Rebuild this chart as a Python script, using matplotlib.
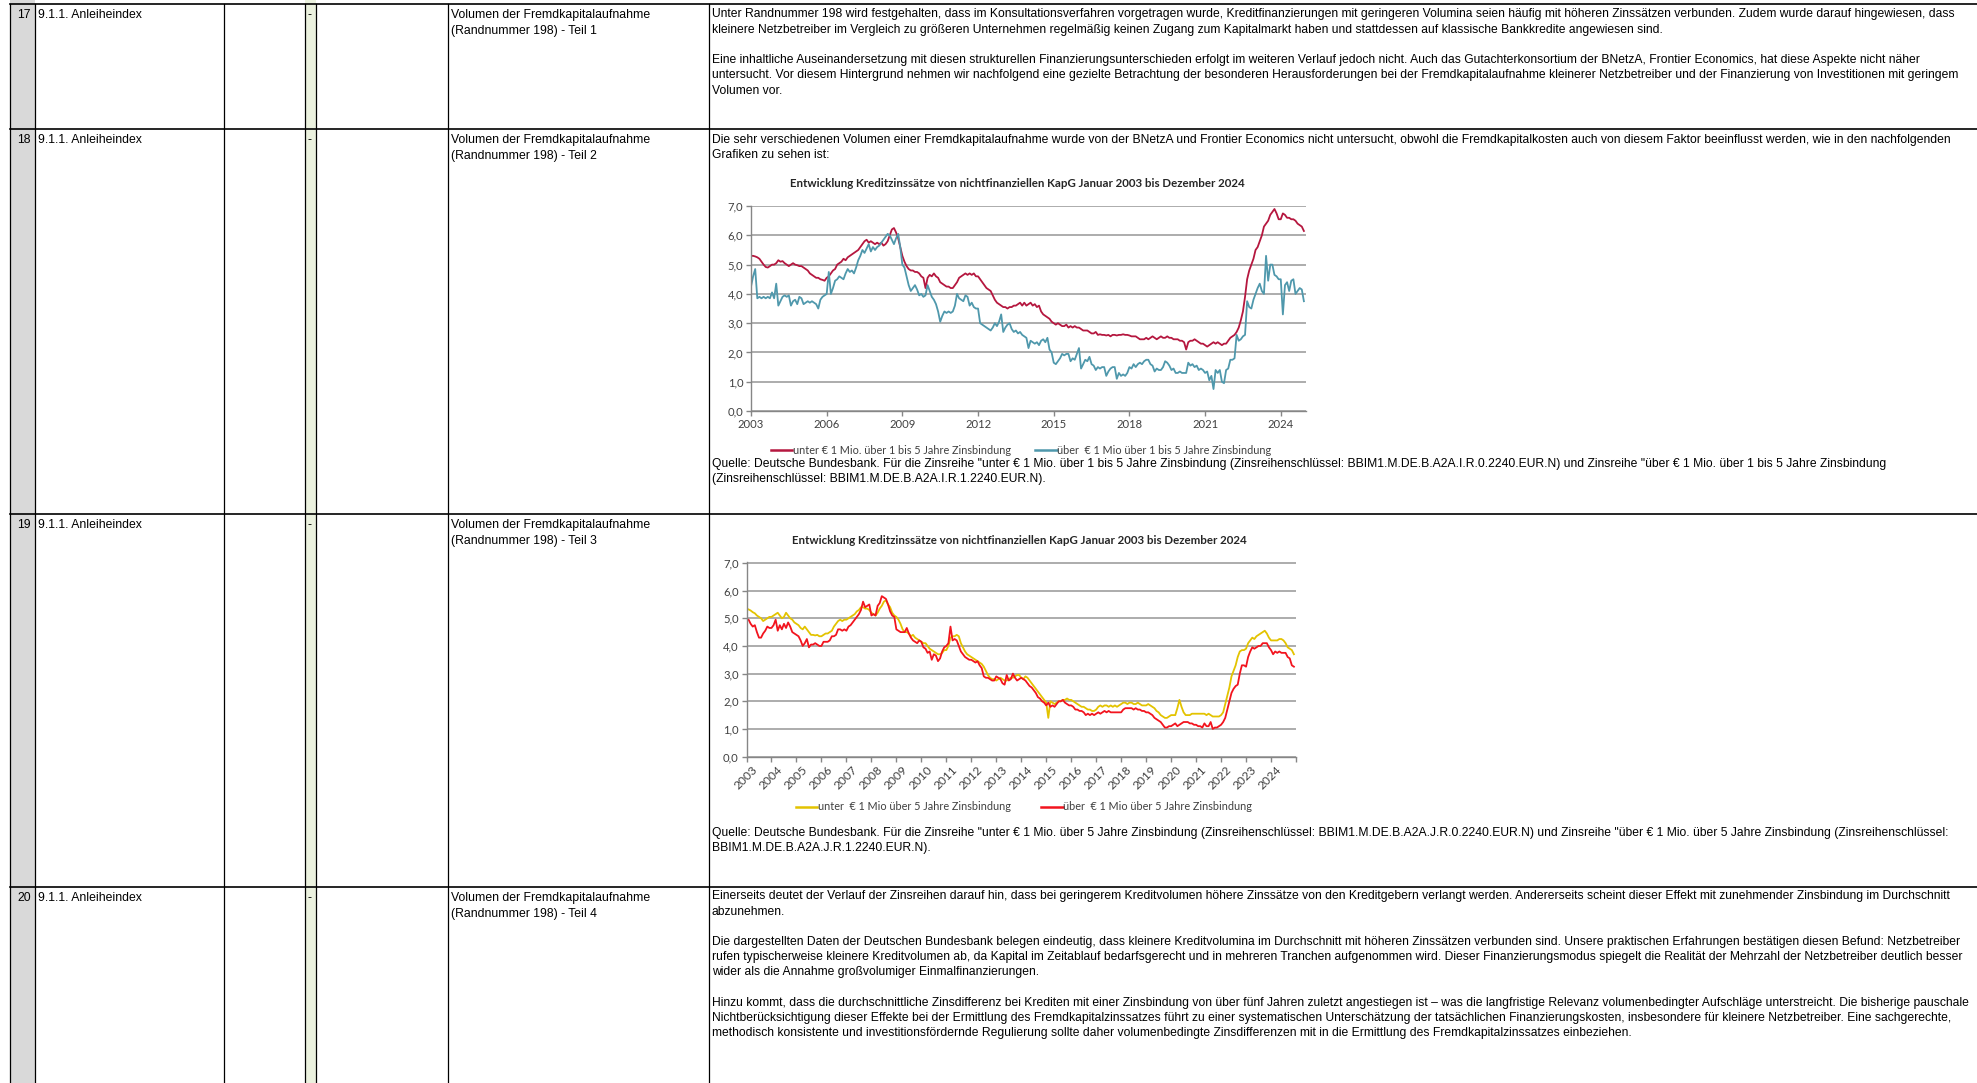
import numpy as np
import matplotlib.pyplot as plt
import matplotlib.transforms as mtransforms
from matplotlib.lines import Line2D

W, H = 1977, 1083

# ---- chart data (monthly, one row per year 2003..2024) ----
years = list(range(2003, 2025))

unter_1_bis_5 = [
    [5.30, 5.30, 5.28, 5.25, 5.20, 5.10, 5.00, 4.92, 4.90, 4.95, 5.00, 5.00],
    [5.05, 5.15, 5.10, 5.12, 5.05, 5.00, 4.95, 5.00, 5.05, 5.00, 4.98, 4.95],
    [4.95, 4.90, 4.85, 4.80, 4.70, 4.65, 4.60, 4.55, 4.55, 4.50, 4.48, 4.45],
    [4.55, 4.60, 4.70, 4.80, 4.85, 5.00, 5.05, 5.10, 5.20, 5.15, 5.25, 5.30],
    [5.35, 5.40, 5.45, 5.50, 5.60, 5.70, 5.80, 5.85, 5.75, 5.80, 5.75, 5.70],
    [5.75, 5.70, 5.75, 5.65, 5.70, 5.80, 6.00, 6.20, 6.25, 6.10, 5.90, 5.60],
    [5.30, 5.10, 4.95, 4.85, 4.80, 4.80, 4.75, 4.75, 4.70, 4.60, 4.55, 4.20],
    [4.55, 4.65, 4.60, 4.70, 4.60, 4.55, 4.40, 4.35, 4.30, 4.25, 4.25, 4.20],
    [4.20, 4.30, 4.40, 4.55, 4.60, 4.65, 4.70, 4.65, 4.70, 4.65, 4.70, 4.60],
    [4.60, 4.50, 4.40, 4.30, 4.20, 4.15, 4.10, 3.95, 3.80, 3.70, 3.65, 3.60],
    [3.55, 3.55, 3.50, 3.55, 3.55, 3.60, 3.60, 3.65, 3.70, 3.60, 3.70, 3.60],
    [3.65, 3.70, 3.60, 3.65, 3.55, 3.60, 3.40, 3.30, 3.25, 3.20, 3.15, 3.05],
    [3.00, 2.95, 3.00, 2.95, 2.90, 2.90, 2.95, 2.85, 2.90, 2.85, 2.90, 2.85],
    [2.85, 2.80, 2.75, 2.75, 2.75, 2.70, 2.65, 2.65, 2.70, 2.60, 2.62, 2.60],
    [2.60, 2.58, 2.60, 2.55, 2.60, 2.60, 2.58, 2.60, 2.60, 2.62, 2.60, 2.60],
    [2.58, 2.55, 2.55, 2.55, 2.50, 2.45, 2.45, 2.45, 2.50, 2.45, 2.50, 2.55],
    [2.50, 2.45, 2.50, 2.55, 2.50, 2.50, 2.55, 2.50, 2.50, 2.45, 2.45, 2.45],
    [2.40, 2.40, 2.35, 2.10, 2.35, 2.40, 2.40, 2.45, 2.40, 2.35, 2.30, 2.30],
    [2.25, 2.20, 2.25, 2.30, 2.35, 2.30, 2.35, 2.30, 2.25, 2.30, 2.30, 2.40],
    [2.50, 2.55, 2.60, 2.70, 2.85, 3.10, 3.40, 3.90, 4.50, 4.80, 5.00, 5.20],
    [5.50, 5.60, 5.80, 6.00, 6.30, 6.40, 6.50, 6.70, 6.80, 6.90, 6.75, 6.55],
    [6.55, 6.75, 6.70, 6.60, 6.60, 6.55, 6.55, 6.50, 6.40, 6.35, 6.30, 6.15],
]

ueber_1_bis_5 = [
    [4.25, 4.60, 4.85, 3.85, 3.90, 3.85, 3.90, 3.85, 3.90, 3.85, 4.05, 3.85],
    [4.35, 3.60, 3.75, 3.90, 3.95, 3.90, 3.95, 3.60, 3.75, 3.80, 3.65, 3.90],
    [3.85, 3.65, 3.70, 3.75, 3.70, 3.75, 3.70, 3.65, 3.50, 3.80, 3.90, 3.95],
    [4.00, 4.75, 4.00, 4.20, 4.45, 4.50, 4.60, 4.55, 4.50, 4.70, 4.85, 4.75],
    [4.80, 4.70, 4.90, 5.15, 5.30, 5.50, 5.40, 5.55, 5.70, 5.45, 5.60, 5.50],
    [5.60, 5.65, 5.75, 5.85, 5.95, 6.05, 6.00, 5.85, 5.70, 5.90, 6.05, 5.60],
    [5.00, 4.90, 4.60, 4.30, 4.10, 4.20, 4.30, 4.15, 3.95, 4.00, 3.90, 3.95],
    [4.30, 4.10, 3.90, 3.80, 3.65, 3.40, 3.05, 3.25, 3.40, 3.35, 3.40, 3.35],
    [3.40, 3.60, 4.00, 3.85, 3.80, 3.75, 3.95, 3.90, 3.60, 3.70, 3.55, 3.50],
    [3.50, 3.00, 2.95, 2.90, 2.85, 2.80, 2.75, 2.85, 3.00, 2.90, 3.05, 3.30],
    [2.70, 2.85, 2.95, 3.00, 2.80, 2.70, 2.75, 2.65, 2.70, 2.60, 2.55, 2.50],
    [2.15, 2.40, 2.35, 2.30, 2.35, 2.25, 2.40, 2.45, 2.35, 2.50, 2.10, 2.00],
    [1.65, 1.60, 1.70, 1.80, 1.95, 1.90, 1.95, 1.95, 1.70, 1.80, 1.75, 1.95],
    [2.15, 1.45, 1.60, 1.75, 1.70, 1.85, 1.60, 1.55, 1.40, 1.50, 1.45, 1.50],
    [1.50, 1.20, 1.35, 1.45, 1.50, 1.50, 1.10, 1.30, 1.20, 1.25, 1.20, 1.30],
    [1.50, 1.45, 1.60, 1.50, 1.60, 1.65, 1.60, 1.70, 1.75, 1.75, 1.60, 1.55],
    [1.35, 1.45, 1.40, 1.40, 1.50, 1.70, 1.65, 1.55, 1.40, 1.45, 1.30, 1.30],
    [1.35, 1.30, 1.30, 1.30, 1.65, 1.55, 1.60, 1.50, 1.55, 1.40, 1.45, 1.40],
    [1.30, 1.35, 1.05, 1.20, 0.75, 1.40, 1.30, 1.40, 1.00, 0.95, 1.40, 1.45],
    [1.75, 1.75, 1.80, 2.60, 2.40, 2.45, 2.55, 2.60, 3.75, 3.55, 3.50, 3.80],
    [4.00, 4.20, 4.35, 4.10, 4.00, 5.30, 4.45, 5.00, 5.00, 4.65, 4.60, 4.50],
    [4.50, 3.30, 4.30, 4.40, 4.10, 4.45, 4.50, 4.00, 4.10, 4.20, 4.15, 3.75],
]

unter_ueber_5 = [
    [5.35, 5.32, 5.28, 5.22, 5.18, 5.10, 5.05, 5.00, 4.90, 4.95, 5.00, 5.05],
    [5.05, 5.10, 5.15, 5.20, 5.10, 5.00, 5.05, 5.20, 5.10, 5.00, 4.95, 4.85],
    [4.80, 4.75, 4.65, 4.60, 4.70, 4.60, 4.50, 4.40, 4.40, 4.38, 4.40, 4.35],
    [4.35, 4.40, 4.45, 4.45, 4.50, 4.55, 4.70, 4.80, 4.90, 4.95, 4.90, 4.95],
    [4.95, 5.00, 5.05, 5.10, 5.15, 5.25, 5.30, 5.40, 5.40, 5.35, 5.35, 5.30],
    [5.20, 5.15, 5.10, 5.20, 5.35, 5.45, 5.60, 5.65, 5.50, 5.40, 5.20, 5.10],
    [5.05, 4.95, 4.80, 4.60, 4.50, 4.50, 4.45, 4.35, 4.40, 4.30, 4.25, 4.20],
    [4.15, 4.10, 4.10, 4.00, 3.90, 3.85, 3.80, 3.75, 3.70, 3.70, 3.75, 3.85],
    [3.85, 4.00, 4.30, 4.35, 4.35, 4.40, 4.35, 4.10, 3.95, 3.80, 3.70, 3.65],
    [3.60, 3.55, 3.50, 3.45, 3.40, 3.35, 3.25, 3.10, 2.95, 2.85, 2.80, 2.80],
    [2.75, 2.80, 2.85, 2.80, 2.75, 2.75, 2.80, 2.85, 2.85, 2.90, 2.95, 2.95],
    [2.85, 2.80, 2.90, 2.85, 2.75, 2.65, 2.55, 2.45, 2.35, 2.25, 2.15, 2.05],
    [1.95, 1.40, 2.00, 1.95, 1.90, 1.95, 2.00, 2.00, 2.05, 2.05, 2.10, 2.05],
    [2.05, 2.00, 1.95, 1.90, 1.85, 1.80, 1.80, 1.75, 1.70, 1.70, 1.65, 1.65],
    [1.70, 1.80, 1.85, 1.80, 1.85, 1.85, 1.80, 1.85, 1.80, 1.85, 1.80, 1.85],
    [1.90, 1.95, 1.95, 1.90, 1.95, 1.95, 1.90, 1.90, 1.95, 1.90, 1.85, 1.85],
    [1.85, 1.90, 1.85, 1.80, 1.75, 1.65, 1.60, 1.50, 1.45, 1.40, 1.40, 1.45],
    [1.50, 1.50, 1.50, 1.75, 2.05, 1.80, 1.60, 1.50, 1.50, 1.50, 1.55, 1.55],
    [1.55, 1.55, 1.55, 1.55, 1.55, 1.50, 1.55, 1.50, 1.45, 1.45, 1.45, 1.45],
    [1.50, 1.60, 1.90, 2.20, 2.50, 2.90, 3.10, 3.30, 3.60, 3.80, 3.85, 3.85],
    [3.90, 4.10, 4.20, 4.30, 4.25, 4.35, 4.40, 4.45, 4.50, 4.55, 4.45, 4.30],
    [4.20, 4.20, 4.20, 4.20, 4.25, 4.25, 4.20, 4.10, 3.95, 3.90, 3.85, 3.70],
]

ueber_ueber_5 = [
    [4.95, 4.95, 4.80, 4.70, 4.75, 4.50, 4.30, 4.30, 4.45, 4.55, 4.70, 4.65],
    [4.65, 4.75, 4.95, 4.55, 4.75, 4.60, 4.80, 4.65, 4.85, 4.70, 4.50, 4.45],
    [4.40, 4.35, 4.20, 4.00, 4.10, 4.25, 3.95, 4.05, 4.05, 4.10, 4.05, 4.00],
    [4.00, 4.15, 4.15, 4.15, 4.20, 4.35, 4.35, 4.40, 4.60, 4.60, 4.55, 4.60],
    [4.55, 4.70, 4.75, 4.85, 4.95, 5.05, 5.15, 5.30, 5.60, 5.40, 5.45, 5.50],
    [5.10, 5.15, 5.10, 5.45, 5.55, 5.80, 5.75, 5.70, 5.50, 5.25, 5.10, 5.05],
    [4.60, 4.55, 4.50, 4.50, 4.50, 4.65, 4.45, 4.30, 4.20, 4.15, 4.10, 4.20],
    [4.15, 3.95, 3.90, 3.75, 3.80, 3.50, 3.70, 3.65, 3.45, 3.55, 3.80, 3.95],
    [4.00, 4.10, 4.70, 4.20, 4.25, 4.20, 4.00, 3.80, 3.70, 3.60, 3.55, 3.50],
    [3.50, 3.45, 3.40, 3.45, 3.30, 3.20, 2.90, 2.85, 2.85, 2.80, 2.75, 2.75],
    [2.90, 2.85, 2.80, 2.65, 2.60, 2.95, 2.75, 2.80, 3.00, 2.85, 2.75, 2.80],
    [2.85, 2.80, 2.75, 2.65, 2.55, 2.50, 2.40, 2.30, 2.15, 2.10, 2.00, 1.95],
    [1.85, 1.95, 1.80, 1.85, 1.80, 1.90, 2.00, 2.00, 2.05, 1.95, 1.90, 1.85],
    [1.85, 1.80, 1.70, 1.70, 1.65, 1.65, 1.60, 1.50, 1.55, 1.50, 1.55, 1.50],
    [1.55, 1.60, 1.55, 1.60, 1.65, 1.60, 1.65, 1.60, 1.60, 1.60, 1.60, 1.60],
    [1.60, 1.70, 1.75, 1.75, 1.75, 1.75, 1.70, 1.75, 1.70, 1.70, 1.65, 1.65],
    [1.60, 1.60, 1.55, 1.50, 1.40, 1.35, 1.30, 1.25, 1.15, 1.05, 1.05, 1.10],
    [1.10, 1.15, 1.20, 1.10, 1.15, 1.20, 1.25, 1.25, 1.25, 1.20, 1.20, 1.15],
    [1.15, 1.10, 1.10, 1.05, 1.20, 1.10, 1.10, 1.25, 1.00, 1.05, 1.05, 1.10],
    [1.15, 1.25, 1.40, 1.70, 2.00, 2.30, 2.45, 2.55, 2.60, 3.00, 3.30, 3.30],
    [3.25, 3.60, 3.80, 3.95, 3.90, 3.95, 4.00, 4.00, 4.10, 4.10, 4.10, 3.95],
    [3.85, 3.70, 3.80, 3.75, 3.80, 3.75, 3.75, 3.75, 3.60, 3.55, 3.30, 3.25],
]

y_ticks = [0, 1, 2, 3, 4, 5, 6, 7]
y_labels = ["0,0", "1,0", "2,0", "3,0", "4,0", "5,0", "6,0", "7,0"]
x_ticks_1 = [2003, 2006, 2009, 2012, 2015, 2018, 2021, 2024]

chart_title = "Entwicklung Kreditzinssätze von nichtfinanziellen KapG Januar 2003 bis Dezember 2024"
legend_1 = ["unter € 1 Mio. über 1 bis 5 Jahre Zinsbindung", "über  € 1 Mio über 1 bis 5 Jahre Zinsbindung"]
legend_2 = ["unter  € 1 Mio über 5 Jahre Zinsbindung", "über  € 1 Mio über 5 Jahre Zinsbindung"]

# ---- table text ----
row_tops = [4, 129, 514, 887]
row_numbers = ["17", "18", "19", "20"]
row_section = "9.1.1. Anleiheindex"
row_topic = ["Volumen der Fremdkapitalaufnahme", "(Randnummer 198) - Teil {}"]

text_17 = [
    "Unter Randnummer 198 wird festgehalten, dass im Konsultationsverfahren vorgetragen wurde, Kreditfinanzierungen mit geringeren Volumina seien häufig mit höheren Zinssätzen verbunden. Zudem wurde darauf hingewiesen, dass",
    "kleinere Netzbetreiber im Vergleich zu größeren Unternehmen regelmäßig keinen Zugang zum Kapitalmarkt haben und stattdessen auf klassische Bankkredite angewiesen sind.",
    "",
    "Eine inhaltliche Auseinandersetzung mit diesen strukturellen Finanzierungsunterschieden erfolgt im weiteren Verlauf jedoch nicht. Auch das Gutachterkonsortium der BNetzA, Frontier Economics, hat diese Aspekte nicht näher",
    "untersucht. Vor diesem Hintergrund nehmen wir nachfolgend eine gezielte Betrachtung der besonderen Herausforderungen bei der Fremdkapitalaufnahme kleinerer Netzbetreiber und der Finanzierung von Investitionen mit geringem",
    "Volumen vor.",
]
text_18 = [
    "Die sehr verschiedenen Volumen einer Fremdkapitalaufnahme wurde von der BNetzA und Frontier Economics nicht untersucht, obwohl die Fremdkapitalkosten auch von diesem Faktor beeinflusst werden, wie in den nachfolgenden",
    "Grafiken zu sehen ist:",
]
quelle_18 = [
    "Quelle: Deutsche Bundesbank. Für die Zinsreihe \"unter € 1 Mio. über 1 bis 5 Jahre Zinsbindung (Zinsreihenschlüssel: BBIM1.M.DE.B.A2A.I.R.0.2240.EUR.N) und Zinsreihe \"über € 1 Mio. über 1 bis 5 Jahre Zinsbindung",
    "(Zinsreihenschlüssel: BBIM1.M.DE.B.A2A.I.R.1.2240.EUR.N).",
]
quelle_19 = [
    "Quelle: Deutsche Bundesbank. Für die Zinsreihe \"unter € 1 Mio. über 5 Jahre Zinsbindung (Zinsreihenschlüssel: BBIM1.M.DE.B.A2A.J.R.0.2240.EUR.N) und Zinsreihe \"über € 1 Mio. über 5 Jahre Zinsbindung (Zinsreihenschlüssel:",
    "BBIM1.M.DE.B.A2A.J.R.1.2240.EUR.N).",
]
text_20 = [
    "Einerseits deutet der Verlauf der Zinsreihen darauf hin, dass bei geringerem Kreditvolumen höhere Zinssätze von den Kreditgebern verlangt werden. Andererseits scheint dieser Effekt mit zunehmender Zinsbindung im Durchschnitt",
    "abzunehmen.",
    "",
    "Die dargestellten Daten der Deutschen Bundesbank belegen eindeutig, dass kleinere Kreditvolumina im Durchschnitt mit höheren Zinssätzen verbunden sind. Unsere praktischen Erfahrungen bestätigen diesen Befund: Netzbetreiber",
    "rufen typischerweise kleinere Kreditvolumen ab, da Kapital im Zeitablauf bedarfsgerecht und in mehreren Tranchen aufgenommen wird. Dieser Finanzierungsmodus spiegelt die Realität der Mehrzahl der Netzbetreiber deutlich besser",
    "wider als die Annahme großvolumiger Einmalfinanzierungen.",
    "",
    "Hinzu kommt, dass die durchschnittliche Zinsdifferenz bei Krediten mit einer Zinsbindung von über fünf Jahren zuletzt angestiegen ist – was die langfristige Relevanz volumenbedingter Aufschläge unterstreicht. Die bisherige pauschale",
    "Nichtberücksichtigung dieser Effekte bei der Ermittlung des Fremdkapitalzinssatzes führt zu einer systematischen Unterschätzung der tatsächlichen Finanzierungskosten, insbesondere für kleinere Netzbetreiber. Eine sachgerechte,",
    "methodisch konsistente und investitionsfördernde Regulierung sollte daher volumenbedingte Zinsdifferenzen mit in die Ermittlung des Fremdkapitalzinssatzes einbeziehen.",
]

TXT = dict(family="Liberation Sans", fontsize=8.8, color="black", va="center", ha="left")
BODY = {**TXT, "fontsize": 8.72}
CHART_FONT = "Lato"


def box(l, t, r, b):
    """pixel box (top-left origin) -> figure fraction rect"""
    return [l / W, 1 - b / H, (r - l) / W, (b - t) / H]


def write_lines(ax, x, y0, lines, style, pitch):
    for k, s in enumerate(lines):
        if s:
            ax.text(x, y0 + k * pitch, s, **style)


def style_chart(ax, xsize):
    ax.set_ylim(0, 7.02)
    ax.set_xlim(2003, 2025)
    ax.set_yticks(y_ticks)
    ax.set_yticklabels(y_labels)
    ax.grid(axis="y", color="#A6A6A6", lw=1.3)
    ax.grid(axis="x", visible=False)
    ax.set_axisbelow(True)
    for s in ["top", "right"]:
        ax.spines[s].set_visible(False)
    for s in ["left", "bottom"]:
        ax.spines[s].set_color("#868686")
        ax.spines[s].set_linewidth(1.0)
    ax.tick_params(direction="out", length=3.5, width=1.0, color="#868686",
                   labelsize=8.1, labelcolor="#404040", pad=2)
    ax.tick_params(axis="x", labelsize=xsize)
    for lab in ax.get_xticklabels() + ax.get_yticklabels():
        lab.set_fontfamily(CHART_FONT)
    ax.patch.set_alpha(0)


def add_legend(handles, labels, cx, cy, colspace):
    leg = fig.legend(handles, labels, loc="center", bbox_to_anchor=(cx / W, 1 - cy / H), ncol=2,
                     frameon=False, handlelength=2.0, handletextpad=0.05, columnspacing=colspace,
                     prop={"family": CHART_FONT, "size": 7.8})
    for t in leg.get_texts():
        t.set_color("#404040")


fig = plt.figure(figsize=(W / 100, H / 100), dpi=100)
bg = fig.add_axes([0, 0, 1, 1])
bg.set_xlim(0, W)
bg.set_ylim(H, 0)
bg.axis("off")

# table fills and lines
bg.fill_between([10, 35], 0, H, color="#D9D9D9", lw=0)
bg.fill_between([305, 316], 0, H, color="#EBF1DE", lw=0)
for x in [10, 35, 224, 305, 316, 448, 709]:
    bg.plot([x, x], [4, H], color="black", lw=0.9)
for y in row_tops:
    bg.plot([10, W], [y, y], color="black", lw=1.2)

for i, top in enumerate(row_tops):
    y0 = top + 11
    bg.text(31, y0, row_numbers[i], **{**TXT, "ha": "right"})
    bg.text(38, y0, row_section, **TXT)
    bg.text(307.5, y0, "-", **TXT)
    write_lines(bg, 451, y0, [row_topic[0], row_topic[1].format(i + 1)], TXT, 15.8)

write_lines(bg, 712, 14.5, text_17, BODY, 15.2)
write_lines(bg, 712, 139.5, text_18, BODY, 15.2)
write_lines(bg, 712, 463.5, quelle_18, BODY, 15.2)
write_lines(bg, 712, 833, quelle_19, BODY, 15.2)
write_lines(bg, 712, 896.5, text_20, BODY, 15.2)

months = 2003 + np.arange(len(years) * 12) / 12

# chart 1: Zinsbindung 1 bis 5 Jahre
ax1 = fig.add_axes(box(751, 205.5, 1306, 411))
ax1.plot(months, np.ravel(unter_1_bis_5), color="#B5173F", lw=1.3)
ax1.plot(months, np.ravel(ueber_1_bis_5), color="#4F98AC", lw=1.3)
ax1.set_xticks(x_ticks_1)
ax1.set_xticklabels([str(y) for y in x_ticks_1])
style_chart(ax1, 8.1)
fig.text(1017 / W, 1 - 184 / H, chart_title, ha="center", va="center",
         family=CHART_FONT, fontweight="bold", fontsize=8.3, color="#262626")
add_legend([Line2D([], [], color="#B5173F", lw=1.8), Line2D([], [], color="#4F98AC", lw=1.8)],
           legend_1, 1021, 450, 2.2)

# chart 2: Zinsbindung über 5 Jahre
ax2 = fig.add_axes(box(746.5, 562.4, 1296, 756.6))
ax2.plot(months, np.ravel(unter_ueber_5), color="#E3C300", lw=1.3)
ax2.plot(months, np.ravel(ueber_ueber_5), color="#F2141E", lw=1.3)
ax2.set_xticks(years + [2025])
ax2.set_xticklabels([str(y) for y in years] + [""], rotation=45, ha="right",
                    rotation_mode="anchor")
style_chart(ax2, 8.6)
shift = mtransforms.ScaledTranslation(5 / 100, 0, fig.dpi_scale_trans)
for lab in ax2.get_xticklabels():
    lab.set_transform(lab.get_transform() + shift)
fig.text(1019.5 / W, 1 - 541 / H, chart_title, ha="center", va="center",
         family=CHART_FONT, fontweight="bold", fontsize=8.3, color="#262626")
add_legend([Line2D([], [], color="#E3C300", lw=1.8), Line2D([], [], color="#F2141E", lw=1.8)],
           legend_2, 1024, 807, 2.8)

fig.savefig("out.png", dpi=100)
